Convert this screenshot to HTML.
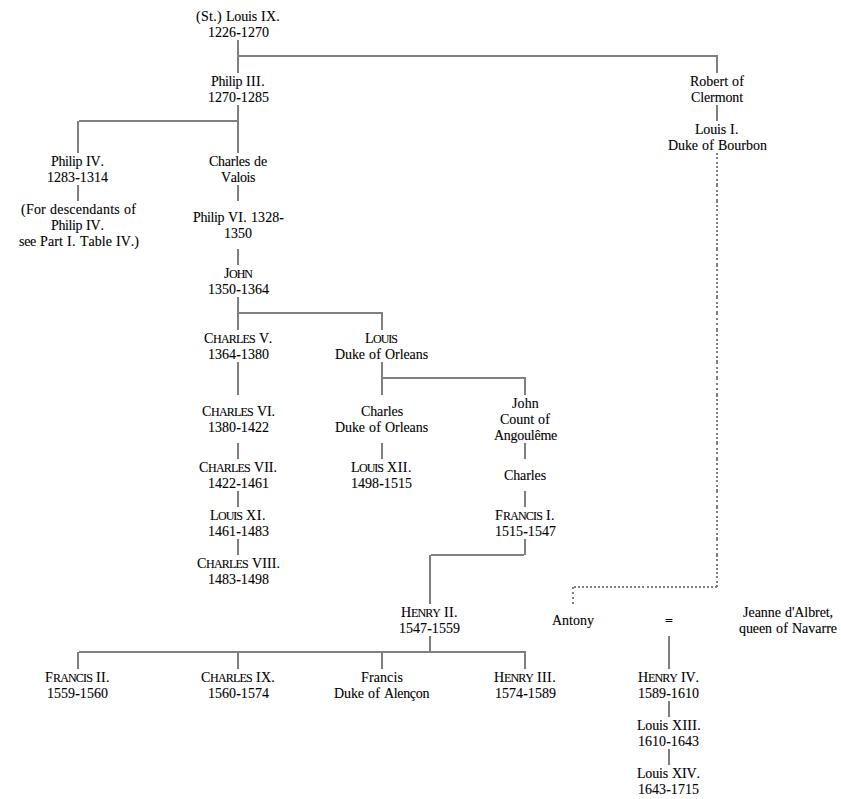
<!DOCTYPE html>
<html lang="en"><head><meta charset="utf-8"><title>Genealogical table: House of Capet, Valois and Bourbon</title>
<style>
html,body{margin:0;padding:0;background:#fff;}
body{width:841px;height:799px;position:relative;overflow:hidden;font-family:"Liberation Serif",serif;font-size:14px;line-height:16px;color:#000;font-kerning:none;font-variant-ligatures:none;-webkit-text-stroke:0.1px #000;}
.t{position:absolute;height:16px;white-space:pre;word-spacing:0.5px;}
.s3{word-spacing:-0.5px;}
.eq{font-weight:bold;transform:scaleY(.86);transform-origin:0 9px;}
.sc{display:inline-block;font-size:12px;line-height:16px;text-transform:uppercase;vertical-align:baseline;}
.sc::first-letter{font-size:14px;}
.cC::first-letter{letter-spacing:-0.338px;}
.cF::first-letter{letter-spacing:0.214px;}
.cH::first-letter{letter-spacing:-0.110px;}
.cJ::first-letter{letter-spacing:-0.448px;}
.cL::first-letter{letter-spacing:-0.552px;}
.l{position:absolute;background:#808080;}
.d{position:absolute;width:2px;height:2px;background:#808080;}
</style></head><body>
<div class="t" style="left:196px;top:9px"><span style="letter-spacing:0.300px">(St.)</span> <span style="letter-spacing:-0.178px">Louis</span> <span style="letter-spacing:0.243px">IX.</span></div>
<div class="t" style="left:208px;top:25px"><span style="letter-spacing:0.038px">1226-1270</span></div>
<div class="t" style="left:211px;top:74px"><span style="letter-spacing:-0.409px">Philip</span> <span style="letter-spacing:0.378px">III.</span></div>
<div class="t" style="left:208px;top:90px"><span style="letter-spacing:0.038px">1270-1285</span></div>
<div class="t" style="left:690px;top:74px"><span style="letter-spacing:-0.017px">Robert</span> <span style="letter-spacing:0.169px">of</span></div>
<div class="t" style="left:691px;top:90px"><span style="letter-spacing:-0.110px">Clermont</span></div>
<div class="t" style="left:695px;top:122px"><span style="letter-spacing:-0.178px">Louis</span> <span style="letter-spacing:0.419px">I.</span></div>
<div class="t" style="left:668px;top:138px"><span style="letter-spacing:-0.081px">Duke</span> <span style="letter-spacing:0.169px">of</span> <span style="letter-spacing:0.000px">Bourbon</span></div>
<div class="t" style="left:51px;top:154px"><span style="letter-spacing:-0.409px">Philip</span> <span style="letter-spacing:-0.091px">IV.</span></div>
<div class="t" style="left:47px;top:170px"><span style="letter-spacing:0.038px">1283-1314</span></div>
<div class="t" style="left:209px;top:154px"><span style="letter-spacing:-0.252px">Charles</span> <span style="letter-spacing:-0.107px">de</span></div>
<div class="t" style="left:221px;top:170px"><span style="letter-spacing:-0.425px">Valois</span></div>
<div class="t" style="left:21px;top:202px"><span style="letter-spacing:0.222px">(For</span> <span style="letter-spacing:0.214px">descendants</span> <span style="letter-spacing:0.169px">of</span></div>
<div class="t" style="left:51px;top:218px"><span style="letter-spacing:-0.409px">Philip</span> <span style="letter-spacing:-0.091px">IV.</span></div>
<div class="t" style="left:19px;top:234px"><span style="letter-spacing:-0.292px">see</span> <span style="letter-spacing:0.112px">Part</span> <span style="letter-spacing:0.419px">I.</span> <span style="letter-spacing:0.026px">Table</span> <span style="letter-spacing:0.016px">IV.)</span></div>
<div class="t" style="left:193px;top:210px"><span style="letter-spacing:-0.409px">Philip</span> <span style="letter-spacing:0.243px">VI.</span> <span style="letter-spacing:0.068px">1328-</span></div>
<div class="t" style="left:224px;top:226px"><span style="letter-spacing:0.000px">1350</span></div>
<div class="t" style="left:224px;top:266px"><span class="sc cJ" style="letter-spacing:-0.999px">John</span></div>
<div class="t" style="left:208px;top:282px"><span style="letter-spacing:0.038px">1350-1364</span></div>
<div class="t" style="left:204px;top:331px"><span class="sc cC" style="letter-spacing:-0.778px">Charles</span> <span style="letter-spacing:-0.305px">V.</span></div>
<div class="t" style="left:208px;top:347px"><span style="letter-spacing:0.038px">1364-1380</span></div>
<div class="t" style="left:365px;top:331px"><span class="sc cL" style="letter-spacing:-1.000px">Louis</span></div>
<div class="t" style="left:335px;top:347px"><span style="letter-spacing:-0.081px">Duke</span> <span style="letter-spacing:0.169px">of</span> <span style="letter-spacing:-0.077px">Orleans</span></div>
<div class="t" style="left:202px;top:404px"><span class="sc cC" style="letter-spacing:-0.778px">Charles</span> <span style="letter-spacing:-0.091px">VI.</span></div>
<div class="t" style="left:208px;top:420px"><span style="letter-spacing:0.038px">1380-1422</span></div>
<div class="t" style="left:361px;top:404px"><span style="letter-spacing:-0.109px">Charles</span></div>
<div class="t" style="left:335px;top:420px"><span style="letter-spacing:-0.081px">Duke</span> <span style="letter-spacing:0.169px">of</span> <span style="letter-spacing:-0.077px">Orleans</span></div>
<div class="t" style="left:512px;top:396px"><span style="letter-spacing:0.138px">John</span></div>
<div class="t" style="left:500px;top:412px"><span style="letter-spacing:-0.046px">Count</span> <span style="letter-spacing:0.169px">of</span></div>
<div class="t" style="left:494px;top:428px"><span style="letter-spacing:-0.257px">Angoulême</span></div>
<div class="t" style="left:199px;top:460px"><span class="sc cC" style="letter-spacing:-0.778px">Charles</span> <span style="letter-spacing:0.016px">VII.</span></div>
<div class="t" style="left:208px;top:476px"><span style="letter-spacing:0.038px">1422-1461</span></div>
<div class="t" style="left:351px;top:460px"><span class="sc cL" style="letter-spacing:-1.000px">Louis</span> <span style="letter-spacing:0.516px">XII.</span></div>
<div class="t" style="left:351px;top:476px"><span style="letter-spacing:0.038px">1498-1515</span></div>
<div class="t" style="left:504px;top:468px"><span style="letter-spacing:-0.109px">Charles</span></div>
<div class="t" style="left:210px;top:508px"><span class="sc cL" style="letter-spacing:-1.000px">Louis</span> <span style="letter-spacing:0.576px">XI.</span></div>
<div class="t" style="left:208px;top:524px"><span style="letter-spacing:0.038px">1461-1483</span></div>
<div class="t" style="left:495px;top:508px"><span class="sc cF" style="letter-spacing:-0.835px">Francis</span> <span style="letter-spacing:0.419px">I.</span></div>
<div class="t" style="left:495px;top:524px"><span style="letter-spacing:0.038px">1515-1547</span></div>
<div class="t" style="left:197px;top:556px"><span class="sc cC" style="letter-spacing:-0.778px">Charles</span> <span style="letter-spacing:0.081px">VIII.</span></div>
<div class="t" style="left:208px;top:572px"><span style="letter-spacing:0.038px">1483-1498</span></div>
<div class="t" style="left:401px;top:605px"><span class="sc cH" style="letter-spacing:-0.917px">Henry</span> <span style="letter-spacing:0.392px">II.</span></div>
<div class="t" style="left:399px;top:621px"><span style="letter-spacing:0.038px">1547-1559</span></div>
<div class="t" style="left:552px;top:613px"><span style="letter-spacing:0.000px">Antony</span></div>
<div class="t eq" style="left:665px;top:613px"><span style="letter-spacing:0.104px">=</span></div>
<div class="t" style="left:743px;top:605px"><span style="letter-spacing:-0.015px">Jeanne</span> <span style="letter-spacing:-0.088px">d'Albret,</span></div>
<div class="t" style="left:739px;top:621px"><span style="letter-spacing:-0.086px">queen</span> <span style="letter-spacing:0.169px">of</span> <span style="letter-spacing:-0.011px">Navarre</span></div>
<div class="t" style="left:45px;top:670px"><span class="sc cF" style="letter-spacing:-0.835px">Francis</span> <span style="letter-spacing:0.392px">II.</span></div>
<div class="t" style="left:47px;top:686px"><span style="letter-spacing:0.038px">1559-1560</span></div>
<div class="t" style="left:201px;top:670px"><span class="sc cC" style="letter-spacing:-0.778px">Charles</span> <span style="letter-spacing:0.243px">IX.</span></div>
<div class="t" style="left:208px;top:686px"><span style="letter-spacing:0.038px">1560-1574</span></div>
<div class="t" style="left:361px;top:670px"><span style="letter-spacing:0.112px">Francis</span></div>
<div class="t" style="left:334px;top:686px"><span style="letter-spacing:-0.081px">Duke</span> <span style="letter-spacing:0.169px">of</span> <span style="letter-spacing:-0.347px">Alençon</span></div>
<div class="t" style="left:494px;top:670px"><span class="sc cH" style="letter-spacing:-0.917px">Henry</span> <span style="letter-spacing:0.378px">III.</span></div>
<div class="t" style="left:495px;top:686px"><span style="letter-spacing:0.038px">1574-1589</span></div>
<div class="t" style="left:638px;top:670px"><span class="sc cH" style="letter-spacing:-0.917px">Henry</span> <span style="letter-spacing:-0.091px">IV.</span></div>
<div class="t" style="left:638px;top:686px"><span style="letter-spacing:0.038px">1589-1610</span></div>
<div class="t" style="left:637px;top:718px"><span style="letter-spacing:-0.178px">Louis</span> <span style="letter-spacing:0.281px">XIII.</span></div>
<div class="t" style="left:638px;top:734px"><span style="letter-spacing:0.038px">1610-1643</span></div>
<div class="t" style="left:637px;top:766px"><span style="letter-spacing:-0.178px">Louis</span> <span style="letter-spacing:-0.096px">XIV.</span></div>
<div class="t" style="left:638px;top:782px"><span style="letter-spacing:0.038px">1643-1715</span></div>
<div class="l" style="left:237px;top:40px;width:2px;height:33px"></div>
<div class="l" style="left:238px;top:55px;width:480px;height:2px"></div>
<div class="l" style="left:716px;top:56px;width:2px;height:17px"></div>
<div class="l" style="left:716px;top:105px;width:2px;height:16px"></div>
<div class="l" style="left:237px;top:105px;width:2px;height:48px"></div>
<div class="l" style="left:79px;top:120px;width:159px;height:2px"></div>
<div class="l" style="left:77px;top:121px;width:2px;height:32px"></div>
<div class="l" style="left:77px;top:185px;width:2px;height:16px"></div>
<div class="l" style="left:237px;top:185px;width:2px;height:16px"></div>
<div class="l" style="left:237px;top:249px;width:2px;height:16px"></div>
<div class="l" style="left:237px;top:297px;width:2px;height:33px"></div>
<div class="l" style="left:238px;top:312px;width:145px;height:2px"></div>
<div class="l" style="left:381px;top:313px;width:2px;height:17px"></div>
<div class="l" style="left:237px;top:362px;width:2px;height:33px"></div>
<div class="l" style="left:381px;top:362px;width:2px;height:33px"></div>
<div class="l" style="left:382px;top:377px;width:144px;height:2px"></div>
<div class="l" style="left:524px;top:378px;width:2px;height:17px"></div>
<div class="l" style="left:237px;top:443px;width:2px;height:16px"></div>
<div class="l" style="left:381px;top:443px;width:2px;height:16px"></div>
<div class="l" style="left:524px;top:443px;width:2px;height:16px"></div>
<div class="l" style="left:237px;top:491px;width:2px;height:16px"></div>
<div class="l" style="left:524px;top:491px;width:2px;height:16px"></div>
<div class="l" style="left:237px;top:539px;width:2px;height:16px"></div>
<div class="l" style="left:524px;top:539px;width:2px;height:16px"></div>
<div class="l" style="left:431px;top:554px;width:93px;height:2px"></div>
<div class="l" style="left:429px;top:555px;width:2px;height:49px"></div>
<div class="l" style="left:429px;top:636px;width:2px;height:16px"></div>
<div class="l" style="left:79px;top:651px;width:447px;height:2px"></div>
<div class="l" style="left:77px;top:652px;width:2px;height:17px"></div>
<div class="l" style="left:237px;top:652px;width:2px;height:17px"></div>
<div class="l" style="left:381px;top:652px;width:2px;height:17px"></div>
<div class="l" style="left:524px;top:652px;width:2px;height:17px"></div>
<div class="l" style="left:668px;top:636px;width:2px;height:33px"></div>
<div class="l" style="left:668px;top:701px;width:2px;height:16px"></div>
<div class="l" style="left:668px;top:749px;width:2px;height:16px"></div>
<i class="d" style="left:572px;top:587px"></i>
<i class="d" style="left:572px;top:592px"></i>
<i class="d" style="left:572px;top:597px"></i>
<i class="d" style="left:572px;top:602px"></i>
<i class="d" style="left:574px;top:586px"></i>
<i class="d" style="left:578px;top:586px"></i>
<i class="d" style="left:582px;top:586px"></i>
<i class="d" style="left:586px;top:586px"></i>
<i class="d" style="left:590px;top:586px"></i>
<i class="d" style="left:594px;top:586px"></i>
<i class="d" style="left:598px;top:586px"></i>
<i class="d" style="left:602px;top:586px"></i>
<i class="d" style="left:606px;top:586px"></i>
<i class="d" style="left:610px;top:586px"></i>
<i class="d" style="left:614px;top:586px"></i>
<i class="d" style="left:618px;top:586px"></i>
<i class="d" style="left:622px;top:586px"></i>
<i class="d" style="left:626px;top:586px"></i>
<i class="d" style="left:630px;top:586px"></i>
<i class="d" style="left:634px;top:586px"></i>
<i class="d" style="left:638px;top:586px"></i>
<i class="d" style="left:642px;top:586px"></i>
<i class="d" style="left:647px;top:586px"></i>
<i class="d" style="left:651px;top:586px"></i>
<i class="d" style="left:655px;top:586px"></i>
<i class="d" style="left:659px;top:586px"></i>
<i class="d" style="left:663px;top:586px"></i>
<i class="d" style="left:667px;top:586px"></i>
<i class="d" style="left:671px;top:586px"></i>
<i class="d" style="left:675px;top:586px"></i>
<i class="d" style="left:679px;top:586px"></i>
<i class="d" style="left:683px;top:586px"></i>
<i class="d" style="left:687px;top:586px"></i>
<i class="d" style="left:691px;top:586px"></i>
<i class="d" style="left:695px;top:586px"></i>
<i class="d" style="left:699px;top:586px"></i>
<i class="d" style="left:703px;top:586px"></i>
<i class="d" style="left:707px;top:586px"></i>
<i class="d" style="left:711px;top:586px"></i>
<i class="d" style="left:715px;top:586px"></i>
<i class="d" style="left:716px;top:153px"></i>
<i class="d" style="left:716px;top:157px"></i>
<i class="d" style="left:716px;top:162px"></i>
<i class="d" style="left:716px;top:166px"></i>
<i class="d" style="left:716px;top:170px"></i>
<i class="d" style="left:716px;top:174px"></i>
<i class="d" style="left:716px;top:179px"></i>
<i class="d" style="left:716px;top:183px"></i>
<i class="d" style="left:716px;top:185px"></i>
<i class="d" style="left:716px;top:190px"></i>
<i class="d" style="left:716px;top:194px"></i>
<i class="d" style="left:716px;top:199px"></i>
<i class="d" style="left:716px;top:201px"></i>
<i class="d" style="left:716px;top:205px"></i>
<i class="d" style="left:716px;top:209px"></i>
<i class="d" style="left:716px;top:214px"></i>
<i class="d" style="left:716px;top:218px"></i>
<i class="d" style="left:716px;top:222px"></i>
<i class="d" style="left:716px;top:226px"></i>
<i class="d" style="left:716px;top:230px"></i>
<i class="d" style="left:716px;top:234px"></i>
<i class="d" style="left:716px;top:239px"></i>
<i class="d" style="left:716px;top:243px"></i>
<i class="d" style="left:716px;top:247px"></i>
<i class="d" style="left:716px;top:249px"></i>
<i class="d" style="left:716px;top:254px"></i>
<i class="d" style="left:716px;top:258px"></i>
<i class="d" style="left:716px;top:263px"></i>
<i class="d" style="left:716px;top:265px"></i>
<i class="d" style="left:716px;top:269px"></i>
<i class="d" style="left:716px;top:274px"></i>
<i class="d" style="left:716px;top:278px"></i>
<i class="d" style="left:716px;top:282px"></i>
<i class="d" style="left:716px;top:286px"></i>
<i class="d" style="left:716px;top:291px"></i>
<i class="d" style="left:716px;top:295px"></i>
<i class="d" style="left:716px;top:297px"></i>
<i class="d" style="left:716px;top:302px"></i>
<i class="d" style="left:716px;top:306px"></i>
<i class="d" style="left:716px;top:311px"></i>
<i class="d" style="left:716px;top:313px"></i>
<i class="d" style="left:716px;top:318px"></i>
<i class="d" style="left:716px;top:323px"></i>
<i class="d" style="left:716px;top:328px"></i>
<i class="d" style="left:716px;top:330px"></i>
<i class="d" style="left:716px;top:334px"></i>
<i class="d" style="left:716px;top:339px"></i>
<i class="d" style="left:716px;top:343px"></i>
<i class="d" style="left:716px;top:347px"></i>
<i class="d" style="left:716px;top:351px"></i>
<i class="d" style="left:716px;top:356px"></i>
<i class="d" style="left:716px;top:360px"></i>
<i class="d" style="left:716px;top:362px"></i>
<i class="d" style="left:716px;top:367px"></i>
<i class="d" style="left:716px;top:371px"></i>
<i class="d" style="left:716px;top:376px"></i>
<i class="d" style="left:716px;top:378px"></i>
<i class="d" style="left:716px;top:383px"></i>
<i class="d" style="left:716px;top:388px"></i>
<i class="d" style="left:716px;top:393px"></i>
<i class="d" style="left:716px;top:395px"></i>
<i class="d" style="left:716px;top:399px"></i>
<i class="d" style="left:716px;top:403px"></i>
<i class="d" style="left:716px;top:408px"></i>
<i class="d" style="left:716px;top:412px"></i>
<i class="d" style="left:716px;top:416px"></i>
<i class="d" style="left:716px;top:420px"></i>
<i class="d" style="left:716px;top:424px"></i>
<i class="d" style="left:716px;top:428px"></i>
<i class="d" style="left:716px;top:433px"></i>
<i class="d" style="left:716px;top:437px"></i>
<i class="d" style="left:716px;top:441px"></i>
<i class="d" style="left:716px;top:443px"></i>
<i class="d" style="left:716px;top:448px"></i>
<i class="d" style="left:716px;top:452px"></i>
<i class="d" style="left:716px;top:457px"></i>
<i class="d" style="left:716px;top:459px"></i>
<i class="d" style="left:716px;top:463px"></i>
<i class="d" style="left:716px;top:468px"></i>
<i class="d" style="left:716px;top:472px"></i>
<i class="d" style="left:716px;top:476px"></i>
<i class="d" style="left:716px;top:480px"></i>
<i class="d" style="left:716px;top:485px"></i>
<i class="d" style="left:716px;top:489px"></i>
<i class="d" style="left:716px;top:491px"></i>
<i class="d" style="left:716px;top:496px"></i>
<i class="d" style="left:716px;top:500px"></i>
<i class="d" style="left:716px;top:505px"></i>
<i class="d" style="left:716px;top:507px"></i>
<i class="d" style="left:716px;top:511px"></i>
<i class="d" style="left:716px;top:516px"></i>
<i class="d" style="left:716px;top:520px"></i>
<i class="d" style="left:716px;top:524px"></i>
<i class="d" style="left:716px;top:528px"></i>
<i class="d" style="left:716px;top:533px"></i>
<i class="d" style="left:716px;top:537px"></i>
<i class="d" style="left:716px;top:539px"></i>
<i class="d" style="left:716px;top:544px"></i>
<i class="d" style="left:716px;top:548px"></i>
<i class="d" style="left:716px;top:553px"></i>
<i class="d" style="left:716px;top:555px"></i>
<i class="d" style="left:716px;top:559px"></i>
<i class="d" style="left:716px;top:564px"></i>
<i class="d" style="left:716px;top:568px"></i>
<i class="d" style="left:716px;top:572px"></i>
<i class="d" style="left:716px;top:576px"></i>
<i class="d" style="left:716px;top:581px"></i>
<i class="d" style="left:716px;top:585px"></i>
</body></html>
